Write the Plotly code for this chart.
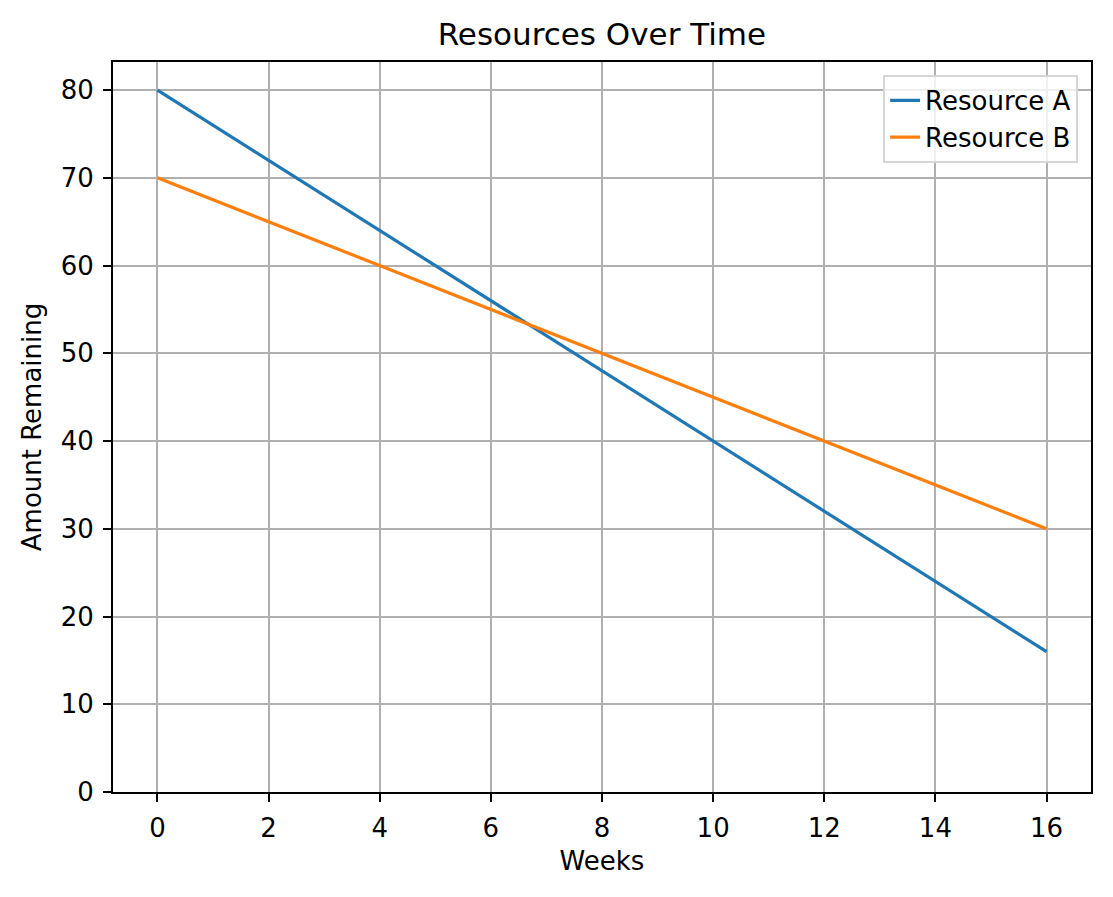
import plotly.graph_objects as go

weeks = [0, 1, 2, 3, 4, 5, 6, 7, 8, 9, 10, 11, 12, 13, 14, 15, 16]
resource_a = [80, 76, 72, 68, 64, 60, 56, 52, 48, 44, 40, 36, 32, 28, 24, 20, 16]
resource_b = [70, 67.5, 65, 62.5, 60, 57.5, 55, 52.5, 50, 47.5, 45, 42.5, 40, 37.5, 35, 32.5, 30]
x_ticks = [0, 2, 4, 6, 8, 10, 12, 14, 16]
y_ticks = [0, 10, 20, 30, 40, 50, 60, 70, 80]

font = "DejaVu Sans"

fig = go.Figure()
fig.add_trace(go.Scatter(x=weeks, y=resource_a, mode="lines", name="Resource A",
                         line=dict(color="#1f77b4", width=3.2)))
fig.add_trace(go.Scatter(x=weeks, y=resource_b, mode="lines", name="Resource B",
                         line=dict(color="#ff7f0e", width=3.2)))

axis_style = dict(
    showgrid=True, gridcolor="#b0b0b0", gridwidth=1.8,
    showline=True, linecolor="black", linewidth=1.8, mirror=True,
    ticks="outside", ticklen=8, tickwidth=1.8, tickcolor="black",
    zeroline=False, tickfont=dict(size=26, color="black"),
    ticklabelstandoff=4,
)

# page body has an 8px margin, so the figure is shrunk to fit the window
fig.update_xaxes(range=[-0.8, 16.8], tickvals=x_ticks,
                 title=dict(text="Weeks", font=dict(size=26, color="black"), standoff=10),
                 **axis_style)
fig.update_yaxes(range=[0, 83.2], tickvals=y_ticks,
                 title=dict(text="Amount Remaining", font=dict(size=26, color="black"), standoff=12),
                 **axis_style)

fig.update_layout(
    width=1097, height=881,
    paper_bgcolor="white", plot_bgcolor="white",
    font=dict(family=font, color="black"),
    title=dict(text="Resources Over Time", x=0.5414, xanchor="center", y=0.97, yanchor="middle",
               font=dict(size=31, color="black")),
    margin=dict(l=105, r=12, t=54, b=97),
    legend=dict(x=0.987, y=0.982, xanchor="right", yanchor="top",
                bgcolor="rgba(255,255,255,0.8)", bordercolor="#d6d6d6", borderwidth=1.8,
                font=dict(size=26, color="black")),
    showlegend=True,
)

fig.write_html("out.html")
